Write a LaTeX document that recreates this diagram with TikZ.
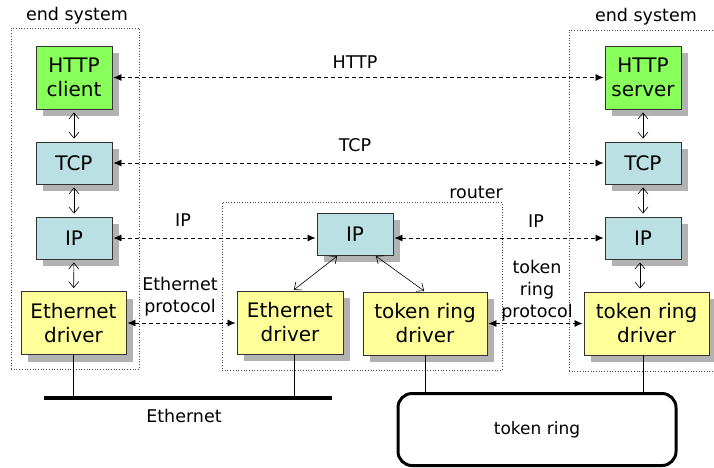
\documentclass[tikz,border=0pt]{standalone}
\usepackage{fontspec}
\setmainfont{DejaVu Sans}
\usetikzlibrary{arrows.meta,shadows,calc}
\definecolor{httpgreen}{RGB}{136,255,90}
\definecolor{layerblue}{RGB}{187,224,228}
\definecolor{drvyellow}{RGB}{255,255,153}
\tikzset{
  layerbox/.style={draw=black!80, line width=0.9pt, inner sep=0pt, align=center,
    font=\fontsize{20}{24}\selectfont,
    general shadow={fill=gray!60, draw=none, shadow xshift=7pt, shadow yshift=-7pt}},
  appbox/.style={layerbox, fill=httpgreen, minimum width=76pt, minimum height=63pt},
  netbox/.style={layerbox, fill=layerblue, minimum width=76pt, minimum height=42pt},
  drvbox/.style={layerbox, fill=drvyellow, minimum height=63pt},
  sysbox/.style={draw=black!70, dotted, line width=0.7pt, inner sep=0pt},
  lbl/.style={inner sep=0pt, align=center, font=\fontsize{17.5}{22}\selectfont},
  peer/.style={dash pattern=on 4pt off 3pt, line width=0.8pt,
    {Latex[length=8pt,width=7pt]}-{Latex[length=8pt,width=7pt]},
    shorten >=1pt, shorten <=1pt},
  updown/.style={line width=0.6pt,
    {Straight Barb[length=6pt,width=10pt]}-{Straight Barb[length=6pt,width=10pt]},
    shorten >=3pt, shorten <=3pt},
  wire/.style={line width=0.7pt}
}
\begin{document}
\begin{tikzpicture}[x=1pt,y=-1pt]
\useasboundingbox (0,0) rectangle (714,467);
% system boxes
\node[sysbox, minimum width=128pt, minimum height=341pt] (esL) at (75,198.5) {};
\node[sysbox, minimum width=280pt, minimum height=168pt] (rt) at (362,286) {};
\node[sysbox, minimum width=151pt, minimum height=341pt] (esR) at (644.5,200.5) {};
\node[lbl] (esLl) at (77,16) {end system};
\node[lbl] (esRl) at (646,17) {end system};
\node[lbl] (rtl) at (476,192) {router};
% left stack
\node[appbox] (hc) at (74,77.5) {HTTP\\client};
\node[netbox] (tcpL) at (74,163) {TCP};
\node[netbox] (ipL) at (74,238) {IP};
\node[drvbox, minimum width=105pt] (ethL) at (73.5,323) {Ethernet\\driver};
% router
\node[netbox] (rIP) at (355,234) {IP};
\node[drvbox, minimum width=106pt] (rEth) at (290,322.5) {Ethernet\\driver};
\node[drvbox, minimum width=124pt] (rTR) at (425,323.5) {token ring\\driver};
% right stack
\node[appbox] (hs) at (643,77.5) {HTTP\\server};
\node[netbox] (tcpR) at (643,163) {TCP};
\node[netbox] (ipR) at (643,238) {IP};
\node[drvbox, minimum width=125pt] (trR) at (646.5,323.5) {token ring\\driver};
% vertical arrows
\draw[updown] (hc) -- (tcpL);
\draw[updown] (tcpL) -- (ipL);
\draw[updown] (ipL) -- (ethL);
\draw[updown] (hs) -- (tcpR);
\draw[updown] (tcpR) -- (ipR);
\draw[updown] ([xshift=-3pt]ipR.south) -- ([xshift=-3pt]ipR.south |- trR.north);
\draw[updown, shorten >=1pt, shorten <=1pt] ([xshift=-17pt]rIP.south) -- ([xshift=3pt]rEth.north);
\draw[updown, shorten >=1pt, shorten <=1pt] ([xshift=20pt]rIP.south) -- (rTR.north);
% peer protocols
\draw[peer] (hc.east) -- (hs.west);
\draw[peer] (tcpL.east) -- (tcpR.west);
\draw[peer] (ipL.east) -- (ipL.east -| rIP.west);
\draw[peer] (rIP.east |- ipR.west) -- (ipR.west);
\draw[peer] (ethL.east) -- (ethL.east -| rEth.west);
\draw[peer] (rTR.east |- trR.west) -- (trR.west);
\node[lbl] (lhttp) at (355,62) {HTTP};
\node[lbl] (ltcp) at (355,145) {TCP};
\node[lbl] (lipL) at (183,220) {IP};
\node[lbl] (lipR) at (536,221) {IP};
\node[lbl] (leth) at (180,297) {Ethernet\\protocol};
\node[lbl] (ltr) at (537,291) {token\\ring\\protocol};
% networks
\coordinate (busL) at (44,398);
\coordinate (busR) at (332,398);
\draw[line width=4pt] (busL) -- (busR);
\node[lbl] (lbus) at (184,416) {Ethernet};
\draw[wire] (ethL.south) -- (ethL.south |- busL);
\draw[wire] ([xshift=4pt]rEth.south) -- ([xshift=4pt]rEth.south |- busL);
\node[draw, line width=3pt, rounded corners=14pt, minimum width=278pt, minimum height=72pt,
  font=\fontsize{17}{20}\selectfont] (ring) at (537,429.5) {token ring};
\draw[wire] (rTR.south) -- (rTR.south |- ring.north);
\draw[wire] ([xshift=-3.5pt]trR.south) -- ([xshift=-3.5pt]trR.south |- ring.north);
\end{tikzpicture}
\end{document}
